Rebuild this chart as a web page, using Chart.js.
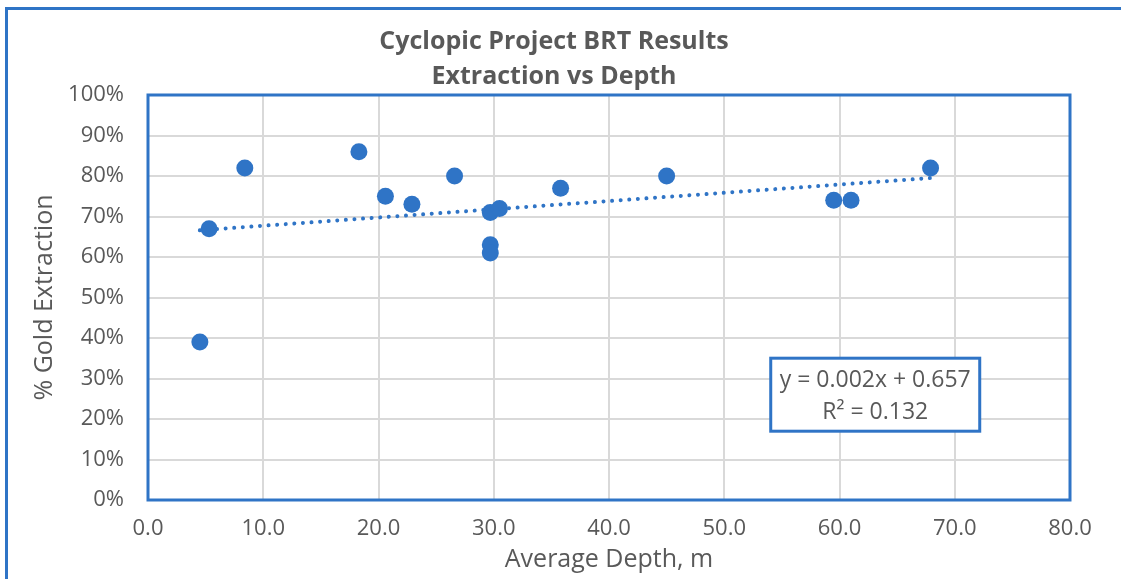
<!DOCTYPE html>
<html>
<head>
<meta charset="utf-8">
<script src="https://cdn.jsdelivr.net/npm/chart.js@4"></script>
<style>
  html, body { margin: 0; padding: 0; background: #fff; }
  #wrap { width: 1121px; height: 579px; position: relative; }
</style>
</head>
<body>
<div id="wrap"><canvas id="myChart" width="1121" height="579"></canvas></div>
<script>
// depth (m) and gold extraction (%)
var depth = [4.5, 5.3, 8.4, 18.3, 20.6, 22.9, 26.6, 29.7, 30.5, 29.7, 29.7, 35.8, 45.0, 59.5, 61.0, 67.9];
var extraction = [39, 67, 82, 86, 75, 73, 80, 71, 72, 63, 61, 77, 80, 74, 74, 82];

// linear trendline ends, as shown
var trendDepth = [4.5, 67.9];
var trendExtraction = [66.6, 79.5];

var xTicks = [0, 10, 20, 30, 40, 50, 60, 70, 80];
var yTicks = [0, 10, 20, 30, 40, 50, 60, 70, 80, 90, 100];

var titleLines = ["Cyclopic Project BRT Results", "Extraction vs Depth"];
var equationLines = ["y = 0.002x + 0.657", "R\u00b2 = 0.132"];

var blue = "#2F74C6";
var textGrey = "#595959";
var gridGrey = "#D9D9D9";
var fontFamily = "'Open Sans', 'Liberation Sans', sans-serif";

var frames = {
    id: "frames",
    beforeDraw: function(chart) {
        var c = chart.ctx;
        c.save();
        c.strokeStyle = blue;
        c.lineWidth = 3;
        c.strokeRect(6.5, 8.5, 1140, 620);
        c.restore();
    },
    afterDatasetsDraw: function(chart) {
        var c = chart.ctx, a = chart.chartArea;
        c.save();
        c.strokeStyle = blue;
        c.lineWidth = 3;
        c.strokeRect(a.left, a.top, a.right - a.left, a.bottom - a.top);

        // equation box
        var xs = chart.scales.x, ys = chart.scales.y;
        var cx = xs.getPixelForValue(63.1), cy = ys.getPixelForValue(26);
        var w = 209, h = 73;
        c.fillStyle = "#fff";
        c.fillRect(cx - w / 2, cy - h / 2, w, h);
        c.strokeRect(cx - w / 2, cy - h / 2, w, h);
        c.fillStyle = textGrey;
        c.font = "23px " + fontFamily;
        c.textAlign = "center";
        c.textBaseline = "middle";
        c.fillText(equationLines[0], cx, cy - 14.5);
        c.fillText(equationLines[1], cx, cy + 17.5);
        c.restore();
    }
};

var ctx = document.getElementById("myChart").getContext("2d");
var myChart = new Chart(ctx, {
    type: "scatter",
    data: {
        datasets: [
            {
                type: "line",
                label: "Trend",
                data: trendDepth.map(function(d, i) { return {x: d, y: trendExtraction[i]}; }),
                borderColor: blue,
                borderWidth: 4,
                borderDash: [0.01, 8.6],
                borderCapStyle: "round",
                pointRadius: 0,
                fill: false
            },
            {
                label: "BRT",
                data: depth.map(function(d, i) { return {x: d, y: extraction[i]}; }),
                backgroundColor: blue,
                borderColor: blue,
                borderWidth: 0,
                pointRadius: 8.5
            }
        ]
    },
    options: {
        responsive: false,
        animation: false,
        layout: { padding: { left: 38, right: 51, top: 14, bottom: 0 } },
        plugins: {
            legend: { display: false },
            tooltip: { enabled: false },
            title: {
                display: true,
                text: titleLines,
                color: textGrey,
                font: { family: fontFamily, size: 25, weight: "bold", lineHeight: 1.4 },
                padding: { top: 10.5, bottom: 0.5 }
            }
        },
        scales: {
            x: {
                type: "linear",
                min: 0,
                max: 80,
                afterBuildTicks: function(s) { s.ticks = xTicks.map(function(v) { return {value: v}; }); },
                afterFit: function(s) { s.height = 79; },
                grid: { color: gridGrey, lineWidth: 2, drawTicks: false },
                border: { display: false },
                ticks: {
                    color: textGrey,
                    padding: 16,
                    maxRotation: 0,
                    font: { family: fontFamily, size: 22 },
                    callback: function(v) { return v.toFixed(1); }
                },
                title: {
                    display: true,
                    text: "Average Depth, m",
                    color: textGrey,
                    font: { family: fontFamily, size: 25 },
                    padding: { top: 0, bottom: 4 }
                }
            },
            y: {
                min: 0,
                max: 100,
                afterBuildTicks: function(s) { s.ticks = yTicks.map(function(v) { return {value: v}; }); },
                afterFit: function(s) { s.width = 110; },
                grid: { color: gridGrey, lineWidth: 2, drawTicks: false },
                border: { display: false },
                ticks: {
                    color: textGrey,
                    padding: 24,
                    font: { family: fontFamily, size: 22 },
                    callback: function(v) { return v + "%"; }
                },
                title: {
                    display: true,
                    text: "% Gold Extraction",
                    color: textGrey,
                    font: { family: fontFamily, size: 25 },
                    padding: { top: -8, bottom: 0 }
                }
            }
        }
    },
    plugins: [frames]
});
</script>
</body>
</html>
